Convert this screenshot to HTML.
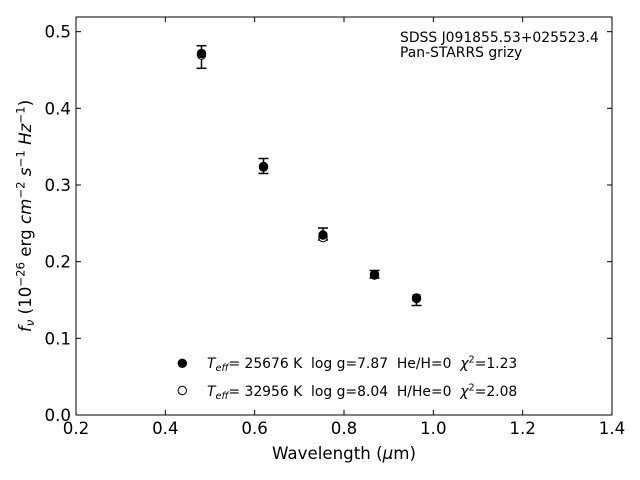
<!DOCTYPE html>
<html>
<head>
<meta charset="utf-8">
<style>
html,body{margin:0;padding:0;background:#fff;}
svg{display:block;}
text{font-family:"DejaVu Sans","Liberation Sans",sans-serif;fill:#000;}
</style>
</head>
<body>
<svg width="640" height="480" viewBox="0 0 640 480" xmlns="http://www.w3.org/2000/svg">
<rect x="0" y="0" width="640" height="480" fill="#fff"/>
<rect x="76" y="17" width="536" height="398" fill="none" stroke="#000" stroke-width="1"/>
<g stroke="#000" stroke-width="1">
<line x1="76" y1="415" x2="76" y2="410"/><line x1="165.33" y1="415" x2="165.33" y2="410"/><line x1="254.67" y1="415" x2="254.67" y2="410"/><line x1="344" y1="415" x2="344" y2="410"/><line x1="433.33" y1="415" x2="433.33" y2="410"/><line x1="522.67" y1="415" x2="522.67" y2="410"/><line x1="612" y1="415" x2="612" y2="410"/>
<line x1="76" y1="17" x2="76" y2="22"/><line x1="165.33" y1="17" x2="165.33" y2="22"/><line x1="254.67" y1="17" x2="254.67" y2="22"/><line x1="344" y1="17" x2="344" y2="22"/><line x1="433.33" y1="17" x2="433.33" y2="22"/><line x1="522.67" y1="17" x2="522.67" y2="22"/><line x1="612" y1="17" x2="612" y2="22"/>
<line x1="76" y1="415" x2="81" y2="415"/><line x1="76" y1="338.33" x2="81" y2="338.33"/><line x1="76" y1="261.67" x2="81" y2="261.67"/><line x1="76" y1="185" x2="81" y2="185"/><line x1="76" y1="108.33" x2="81" y2="108.33"/><line x1="76" y1="31.67" x2="81" y2="31.67"/>
<line x1="612" y1="415" x2="607" y2="415"/><line x1="612" y1="338.33" x2="607" y2="338.33"/><line x1="612" y1="261.67" x2="607" y2="261.67"/><line x1="612" y1="185" x2="607" y2="185"/><line x1="612" y1="108.33" x2="607" y2="108.33"/><line x1="612" y1="31.67" x2="607" y2="31.67"/>
</g>
<g font-size="16.67" text-anchor="middle">
<text x="76" y="434">0.2</text><text x="165.33" y="434">0.4</text><text x="254.67" y="434">0.6</text><text x="344" y="434">0.8</text><text x="433.33" y="434">1.0</text><text x="522.67" y="434">1.2</text><text x="612" y="434">1.4</text>
</g>
<g font-size="16.67" text-anchor="end">
<text x="71" y="421">0.0</text><text x="71" y="344.3">0.1</text><text x="71" y="267.7">0.2</text><text x="71" y="191">0.3</text><text x="71" y="114.3">0.4</text><text x="71" y="37.7">0.5</text>
</g>
<text x="344" y="459" font-size="16.67" text-anchor="middle">Wavelength (<tspan font-style="italic">μ</tspan>m)</text>
<text transform="translate(31,216) rotate(-90)" x="0" y="0" font-size="16.67" text-anchor="middle"><tspan font-style="italic">f</tspan><tspan font-style="italic" font-size="11.7" dy="3">ν</tspan><tspan dy="-3"> (10</tspan><tspan font-size="11.7" dy="-6.5">−26</tspan><tspan dy="6.5"> erg </tspan><tspan font-style="italic">cm</tspan><tspan font-size="11.7" dy="-6.5">−2</tspan><tspan dy="6.5"> </tspan><tspan font-style="italic">s</tspan><tspan font-size="11.7" dy="-6.5">−1</tspan><tspan dy="6.5"> </tspan><tspan font-style="italic">Hz</tspan><tspan font-size="11.7" dy="-6.5">−1</tspan><tspan dy="6.5">)</tspan></text>
<text x="400" y="42" font-size="13.9">SDSS J091855.53+025523.4</text>
<text x="400" y="57" font-size="13.9">Pan-STARRS grizy</text>
<g stroke="#000" stroke-width="1.5" fill="none">
<line x1="201.5" y1="45.7" x2="201.5" y2="68.3"/><line x1="196.5" y1="45.7" x2="206.5" y2="45.7"/><line x1="196.5" y1="68.3" x2="206.5" y2="68.3"/>
<line x1="263.5" y1="158.5" x2="263.5" y2="173.5"/><line x1="258.5" y1="158.5" x2="268.5" y2="158.5"/><line x1="258.5" y1="173.5" x2="268.5" y2="173.5"/>
<line x1="323" y1="228" x2="323" y2="240"/><line x1="318" y1="228" x2="328" y2="228"/><line x1="318" y1="240" x2="328" y2="240"/>
<line x1="374.5" y1="270.5" x2="374.5" y2="278"/><line x1="369.5" y1="270.5" x2="379.5" y2="270.5"/><line x1="369.5" y1="278" x2="379.5" y2="278"/>
<line x1="416.5" y1="295" x2="416.5" y2="305.5"/><line x1="412.5" y1="295" x2="420.5" y2="295"/><line x1="411.5" y1="305.5" x2="421.5" y2="305.5"/>
</g>
<g fill="#fff" stroke="#000" stroke-width="1">
<circle cx="201.5" cy="55" r="4.2"/>
<circle cx="263.5" cy="167" r="4.2"/>
<circle cx="323" cy="237.5" r="4.2"/>
<circle cx="374.5" cy="275" r="4.2"/>
<circle cx="416.5" cy="298.5" r="4.2"/>
</g>
<g fill="#000" stroke="#000" stroke-width="1">
<circle cx="201.5" cy="53.5" r="4.2"/>
<circle cx="263.5" cy="166.5" r="4.2"/>
<circle cx="323" cy="235" r="4.2"/>
<circle cx="374.5" cy="274.5" r="4.2"/>
<circle cx="416.5" cy="298" r="4.2"/>
</g>
<circle cx="182.3" cy="363.3" r="4.2" fill="#000" stroke="#000" stroke-width="1"/>
<circle cx="182.3" cy="390.5" r="4.2" fill="#fff" stroke="#000" stroke-width="1"/>
<text x="207" y="368" font-size="13.9" xml:space="preserve"><tspan font-style="italic">T</tspan><tspan font-style="italic" font-size="9.7" dy="3">eff</tspan><tspan dy="-3">= 25676 K  log g=7.87  He/H=0  </tspan><tspan font-style="italic">χ</tspan><tspan font-size="9.7" dy="-5.5">2</tspan><tspan dy="5.5">=1.23</tspan></text>
<text x="207" y="396" font-size="13.9" xml:space="preserve"><tspan font-style="italic">T</tspan><tspan font-style="italic" font-size="9.7" dy="3">eff</tspan><tspan dy="-3">= 32956 K  log g=8.04  H/He=0  </tspan><tspan font-style="italic">χ</tspan><tspan font-size="9.7" dy="-5.5">2</tspan><tspan dy="5.5">=2.08</tspan></text>
</svg>
</body>
</html>
